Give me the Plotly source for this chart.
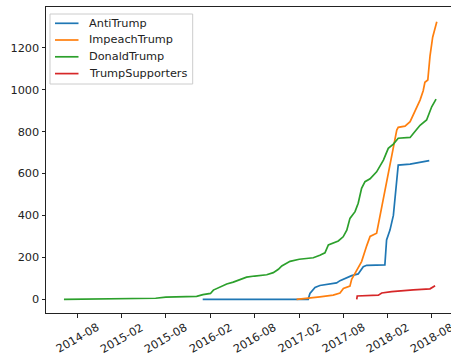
import plotly.graph_objects as go

# Cumulative counts per subreddit over time
anti_dates = ["2015-12-31", "2017-03-10", "2017-03-17", "2017-04-07", "2017-04-27",
              "2017-05-25", "2017-07-05", "2017-07-19", "2017-08-16", "2017-09-05",
              "2017-10-02", "2017-10-23", "2017-11-06", "2018-01-20", "2018-01-27",
              "2018-02-10", "2018-02-24", "2018-03-03", "2018-03-10", "2018-03-16",
              "2018-05-04", "2018-06-14", "2018-07-22"]
anti_counts = [0, 0, 28, 57, 66, 72, 78, 89, 102, 113, 121, 155, 162, 164, 283,
               330, 400, 473, 560, 640, 645, 652, 661]

impeach_dates = ["2017-01-21", "2017-03-10", "2017-04-27", "2017-06-21", "2017-07-19",
                 "2017-08-02", "2017-08-29", "2017-09-05", "2017-09-26", "2017-10-16",
                 "2017-11-06", "2017-11-20", "2017-12-17", "2017-12-31", "2018-01-14",
                 "2018-01-27", "2018-02-10", "2018-02-24", "2018-03-10", "2018-03-16",
                 "2018-04-13", "2018-05-04", "2018-05-17", "2018-05-31", "2018-06-14",
                 "2018-06-27", "2018-07-04", "2018-07-16", "2018-07-25", "2018-08-05",
                 "2018-08-22"]
impeach_counts = [0, 5, 12, 20, 30, 52, 63, 95, 140, 180, 255, 300, 315, 400, 480,
                  569, 640, 728, 807, 820, 826, 847, 880, 910, 950, 995, 1035, 1046,
                  1160, 1250, 1324]

donald_dates = ["2014-06-07", "2015-05-14", "2015-06-20", "2015-08-01", "2015-09-28",
                "2015-12-06", "2016-01-01", "2016-02-01", "2016-02-13", "2016-03-18",
                "2016-04-08", "2016-05-05", "2016-06-02", "2016-06-29", "2016-08-01",
                "2016-09-20", "2016-10-17", "2016-11-07", "2016-11-21", "2016-12-25",
                "2017-02-01", "2017-03-31", "2017-04-27", "2017-05-18", "2017-06-01",
                "2017-06-21", "2017-07-12", "2017-08-01", "2017-08-16", "2017-08-29",
                "2017-09-19", "2017-10-02", "2017-10-16", "2017-10-30", "2017-11-20",
                "2017-12-17", "2018-01-14", "2018-02-03", "2018-02-24", "2018-03-16",
                "2018-05-04", "2018-05-24", "2018-06-14", "2018-07-11", "2018-08-01",
                "2018-08-19"]
donald_counts = [0, 2, 5, 10, 12, 14, 22, 28, 44, 63, 73, 82, 95, 106, 111, 117,
                 127, 143, 159, 181, 191, 198, 210, 222, 259, 270, 278, 298, 330, 386,
                 418, 458, 529, 561, 575, 608, 664, 720, 740, 768, 772, 800, 830, 855,
                 918, 955]

supporters_dates = ["2017-09-26", "2017-09-28", "2017-12-24", "2018-01-07", "2018-02-17",
                    "2018-03-23", "2018-05-17", "2018-07-25", "2018-08-15"]
supporters_counts = [0, 16, 20, 30, 37, 41, 45, 50, 65]

tick_dates = ["2014-08-01", "2015-02-01", "2015-08-01", "2016-02-01", "2016-08-01",
              "2017-02-01", "2017-08-01", "2018-02-01", "2018-08-01"]
tick_labels = ["2014-08", "2015-02", "2015-08", "2016-02", "2016-08",
               "2017-02", "2017-08", "2018-02", "2018-08"]
y_ticks = [0, 200, 400, 600, 800, 1000, 1200]

series = [
    ("AntiTrump", anti_dates, anti_counts, "#1f77b4"),
    ("ImpeachTrump", impeach_dates, impeach_counts, "#ff7f0e"),
    ("DonaldTrump", donald_dates, donald_counts, "#2ca02c"),
    ("TrumpSupporters", supporters_dates, supporters_counts, "#d62728"),
]

FONT = "DejaVu Sans"
FS = 11.3
INK = "#222"

W, H = 451, 358
ML, MR, MT, MB = 46, 0, 7, 45
PW, PH = W - ML - MR, H - MT - MB


def px(x):
    """Horizontal pixel position -> paper fraction."""
    return (x - ML) / PW


def py(y):
    """Vertical pixel position (from top) -> paper fraction."""
    return (H - MB - y) / PH


fig = go.Figure()
for name, d, v, color in series:
    fig.add_trace(go.Scatter(x=d, y=v, mode="lines", name=name, showlegend=False,
                             line=dict(color=color, width=1.7)))

# Rotated date labels centred under each tick
annotations = [
    dict(x=d, y=py(338), xref="x", yref="paper", text=t, textangle=-30,
         showarrow=False, xanchor="center", yanchor="middle",
         font=dict(family=FONT, size=FS, color=INK))
    for d, t in zip(tick_dates, tick_labels)
]

# Legend box in the upper-left corner
shapes = [dict(type="rect", xref="paper", yref="paper",
               x0=px(50), x1=px(192.7), y0=py(84), y1=py(14),
               line=dict(color="#cccccc", width=1),
               fillcolor="rgba(255,255,255,0.8)", layer="above")]
row_y = [23.3, 40.0, 56.8, 73.6]
for (name, _, _, color), ry in zip(series, row_y):
    shapes.append(dict(type="line", xref="paper", yref="paper",
                       x0=px(55), x1=px(78.5), y0=py(ry), y1=py(ry),
                       line=dict(color=color, width=1.7), layer="above"))
    annotations.append(dict(x=px(87.3), y=py(ry), xref="paper", yref="paper",
                            text=name, showarrow=False, xanchor="left",
                            yanchor="middle",
                            font=dict(family=FONT, size=FS, color=INK)))

fig.update_layout(
    width=W, height=H,
    margin=dict(l=ML, r=MR, t=MT, b=MB),
    paper_bgcolor="white", plot_bgcolor="white",
    font=dict(family=FONT, size=FS, color=INK),
    showlegend=False,
    annotations=annotations,
    shapes=shapes,
    xaxis=dict(type="date", range=["2014-03-25", "2018-10-19 14:00"],
               tickmode="array", tickvals=tick_dates, showticklabels=False,
               ticks="outside", ticklen=3.5, tickcolor=INK, tickwidth=1,
               showline=True, linecolor=INK, linewidth=1, mirror=True,
               showgrid=False, zeroline=False),
    yaxis=dict(range=[-65.3, 1394], tickmode="array", tickvals=y_ticks,
               ticks="outside", ticklen=3.5, tickcolor=INK, tickwidth=1,
               showline=True, linecolor=INK, linewidth=1, mirror=False,
               showgrid=False, zeroline=False,
               tickfont=dict(family=FONT, size=FS, color=INK)),
)

fig.write_html("out.html")
